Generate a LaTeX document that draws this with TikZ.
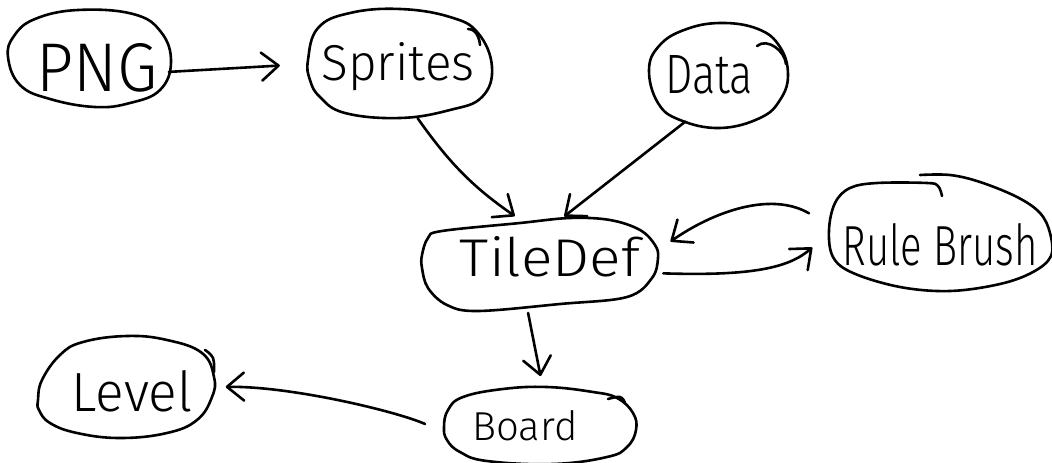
\documentclass[tikz,border=0pt]{standalone}
\usepackage{fontspec}
\setmainfont{Fira Sans}[UprightFont=* Light]
\usepackage{graphicx}
\usetikzlibrary{arrows.meta,shapes.geometric}
% text squeezed to a given width and height, like quick handwriting
\newcommand\scribble[3]{\resizebox{#1}{#2}{#3}}
\begin{document}
\begin{tikzpicture}[x=1pt,y=-1pt,
  ink/.style={line width=2.6pt, line cap=round, line join=round},
  bubble/.style={ellipse, draw=none, inner sep=0pt},
  word/.style={anchor=base, inner sep=0pt},
  conn/.style={ink, -{Straight Barb[length=17pt,width=28pt,round]}},
]
\useasboundingbox (0,0) rectangle (1052,463);
\fill[white] (0,0) rectangle (1052,463);

% bubbles (anchors for the connectors)
\node[bubble, minimum width=164pt, minimum height=98pt]  (png)     at (90,58)   {};
\node[bubble, minimum width=186pt, minimum height=110pt] (sprites) at (400,64)  {};
\node[bubble, minimum width=139pt, minimum height=105pt] (data)    at (718,75)  {};
\node[bubble, minimum width=236pt, minimum height=92pt]  (tiledef) at (540,265) {};
\node[bubble, minimum width=222pt, minimum height=116pt] (rule)    at (940,233) {};
\node[bubble, minimum width=177pt, minimum height=102pt] (level)   at (127,387) {};
\node[bubble, minimum width=192pt, minimum height=76pt]  (board)   at (540,425) {};

% hand-drawn outlines
\draw[ink] plot[smooth cycle, tension=0.7] coordinates {(8,57) (14,36) (35,19) (78,10) (133,14) (161,32) (171,62) (160,90) (130,103) (95,107) (50,99) (20,85)};
\draw[ink] plot[smooth cycle, tension=0.7] coordinates {(308,60) (318,28) (350,13) (400,9) (450,17) (478,33) (492,67) (482,97) (450,110) (400,118) (345,113) (320,97) (310,80)};
\draw[ink] (468,29) to[out=0, in=95] (480,45);
\draw[ink] plot[smooth cycle, tension=0.7] coordinates {(649,70) (659,46) (684,30) (720,23) (758,29) (780,47) (788,75) (780,100) (760,118) (720,128) (680,120) (658,103)};
\draw[ink] (757,46) to[out=40, in=95] (786,64);
\draw[ink] plot[smooth cycle, tension=0.6] coordinates {(422,255) (428,238) (442,231) (520,223) (570,218) (610,220) (640,230) (655,245) (658,258) (652,278) (627,297) (560,304) (478,311) (447,305) (428,288) (422,268)};
\draw[ink] plot[smooth, tension=0.6] coordinates {(942,196) (938,186) (927,183) (877,183) (850,188) (835,203) (829,230) (833,257) (853,273) (900,287) (950,291) (1000,284) (1033,272) (1051,256) (1050,233) (1040,213) (1017,197) (980,182) (950,175) (920,175)};
\draw[ink] plot[smooth cycle, tension=0.7] coordinates {(38,400) (42,380) (60,355) (83,342) (127,336) (167,340) (202,353) (214,377) (212,397) (197,420) (167,433) (120,438) (77,433) (50,423) (39,410)};
\draw[ink] plot[smooth, tension=0.7] coordinates {(205,350) (213,358) (214,372)};
\draw[ink] plot[smooth cycle, tension=0.7] coordinates {(444,427) (448,410) (463,397) (503,389) (547,387) (593,392) (617,398) (633,413) (636,430) (627,447) (607,457) (553,464) (487,461) (460,452) (447,440)};
\draw[ink] plot[smooth, tension=0.7] coordinates {(608,399) (620,397) (625,403)};

% labels
\node[word] (png-label)     at (97,91)   {\scribble{121pt}{48pt}{PNG}};
\node[word] (sprites-label) at (398,80)  {\scribble{153pt}{38pt}{Sprites}};
\node[word] (data-label)    at (709,93)  {\scribble{88pt}{38pt}{Data}};
\node[word] (tiledef-label) at (550,276) {\scribble{180pt}{40pt}{TileDef}};
\node[word] (rule-label)    at (940,265) {\scribble{195pt}{42pt}{Rule Brush}};
\node[word] (level-label)   at (132,411) {\scribble{121pt}{41pt}{Level}};
\node[word] (board-label)   at (525,440) {\scribble{105pt}{30pt}{Board}};

% connectors
\draw[conn, shorten >=27pt] (png.-10) -- (sprites.west);
\draw[conn, shorten >=6pt] (sprites.-72) to[bend right=10] (tiledef.114);
\draw[conn, shorten >=5pt] (data.235) -- (tiledef.66);
\draw[conn, shorten <=24pt, shorten >=20pt] (rule.176) to[out=150, in=35] (tiledef.6);
\draw[conn, shorten <=7pt, shorten >=22pt] (tiledef.-4) .. controls +(95,3) and +(-40,35) .. (rule.180);
\draw[conn, shorten <=2pt, shorten >=11pt] (tiledef.-105) -- (board.86);
\draw[conn, shorten <=23pt, shorten >=10pt] (board.185) .. controls +(-50,-22) and +(75,-1) .. (level.0);
\end{tikzpicture}
\end{document}
